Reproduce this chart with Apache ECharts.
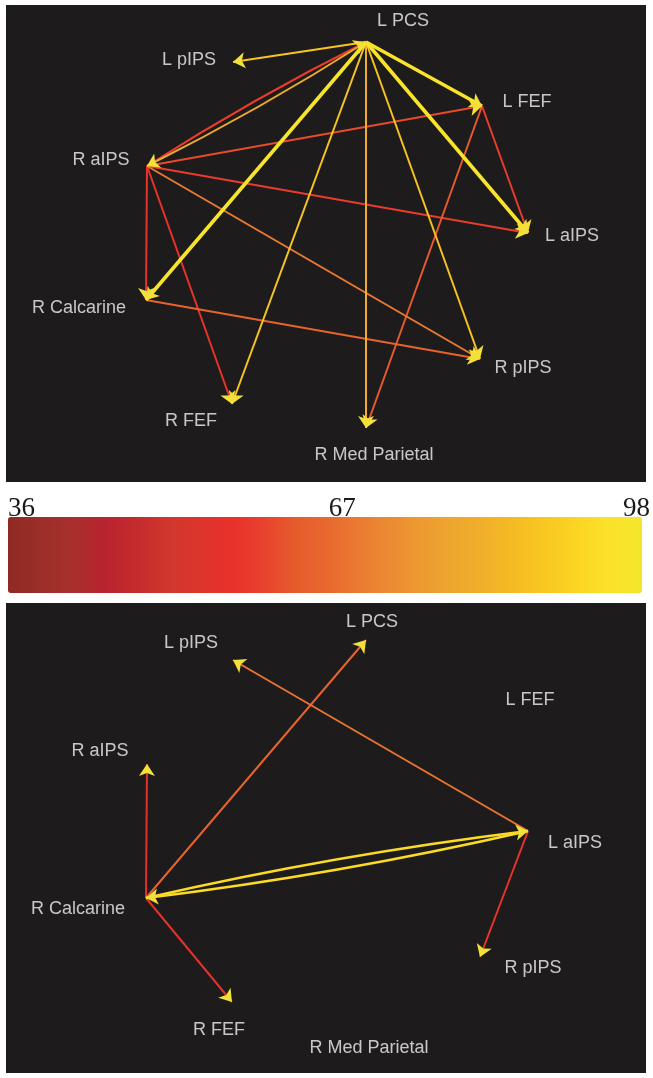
<!DOCTYPE html>
<html>
<head>
<meta charset="utf-8">
<script src="https://cdn.jsdelivr.net/npm/echarts@6/dist/echarts.min.js"></script>
<style>
  html, body { margin: 0; padding: 0; background: #ffffff; }
  #chart { width: 653px; height: 1078px; }
</style>
</head>
<body>
<div id="chart"></div>
<script>
// Brain regions (network nodes)
const regions = ['L PCS', 'L pIPS', 'L FEF', 'R aIPS', 'L aIPS', 'R Calcarine', 'R pIPS', 'R FEF', 'R Med Parietal'];

// Node layout in panel units (x to the right, y downward), shared by both panels
const layoutX = [360, 227, 476, 141, 522, 140, 474, 226, 360];
const layoutY = [37, 57, 101, 161, 228, 295, 354, 399, 423];

// Region name anchors, upper panel
const topLabelX = [397, 183, 521, 95, 566, 73, 517, 185, 368];
const topLabelY = [16, 55, 97, 155, 231, 303, 363, 416, 450];

// Region name anchors, lower panel
const bottomLabelX = [366, 185, 524, 94, 569, 72, 527, 213, 363];
const bottomLabelY = [19, 40, 97, 148, 240, 306, 365, 427, 445];

// Upper panel connections: source -> target, strength
const topFrom = ['L PCS', 'L PCS', 'L PCS', 'L PCS', 'L PCS', 'L PCS', 'L PCS', 'L PCS',
                 'R aIPS', 'R aIPS', 'R aIPS', 'R aIPS', 'R aIPS', 'R aIPS',
                 'L FEF', 'L FEF', 'R Calcarine'];
const topTo = ['L pIPS', 'L FEF', 'L aIPS', 'R Calcarine', 'R FEF', 'R Med Parietal', 'R pIPS', 'R aIPS',
               'L PCS', 'L FEF', 'L aIPS', 'R Calcarine', 'R FEF', 'R pIPS',
               'L aIPS', 'R Med Parietal', 'R pIPS'];
const topValue = [88, 96, 96, 97, 88, 82, 87, 80,
                  60, 62, 60, 58, 58, 70,
                  60, 64, 66];

// Lower panel connections
const bottomFrom = ['R Calcarine', 'R Calcarine', 'L aIPS', 'R Calcarine', 'L aIPS', 'L aIPS', 'R Calcarine'];
const bottomTo = ['R aIPS', 'L PCS', 'L pIPS', 'L aIPS', 'R Calcarine', 'R pIPS', 'R FEF'];
const bottomValue = [57, 66, 69, 93, 93, 58, 57];

// Colour scale
const scaleMin = 36;
const scaleMax = 98;
const scaleLabels = ['36', '67', '98'];
const scaleColors = ['#8e2a22', '#9c2e28', '#a8302c', '#b8242e', '#c32a2d', '#d0362c', '#dc352c',
                     '#e8302c', '#e8402e', '#e65a2c', '#e8682e', '#ea7a32', '#eb8a33', '#ed9a31',
                     '#eea62e', '#f0b02a', '#f4bc22', '#f8c820', '#fbd624', '#fbe22a', '#f4e62c'];

const PANEL_BG = '#1d1b1b';
const ARROW_COLOR = '#f3e03a';
const LABEL_COLOR = '#f2f2f2';
const TWO_WAY_CURVE = 0.026;

function buildEdges(from, to, value, forArrows) {
  const keys = new Set(from.map((f, i) => f + '>' + to[i]));
  return from.map((f, i) => {
    const a = regions.indexOf(f);
    const b = regions.indexOf(to[i]);
    const twoWay = keys.has(to[i] + '>' + f);
    const v = value[i];
    return {
      coords: [[layoutX[a], layoutY[a]], [layoutX[b], layoutY[b]]],
      value: v,
      lineStyle: {
        width: forArrows ? 0 : (v >= 95 ? 3.6 : (v >= 90 ? 2.4 : 2)),
        curveness: twoWay ? TWO_WAY_CURVE : 0
      }
    };
  }).sort((p, q) => p.value - q.value);
}

function buildLabels(lx, ly) {
  return regions.map((name, i) => ({ name: name, value: [lx[i], ly[i]] }));
}

function lineSeries(idx, from, to, value) {
  return {
    type: 'lines',
    coordinateSystem: 'cartesian2d',
    xAxisIndex: idx, yAxisIndex: idx,
    symbol: 'none',
    silent: true,
    lineStyle: { opacity: 1 },
    data: buildEdges(from, to, value, false),
    z: 2
  };
}

function arrowSeries(idx, from, to, value) {
  return {
    type: 'lines',
    coordinateSystem: 'cartesian2d',
    xAxisIndex: idx, yAxisIndex: idx,
    symbol: ['none', 'arrow'],
    symbolSize: [7, 12],
    silent: true,
    lineStyle: { color: ARROW_COLOR, opacity: 1 },
    data: buildEdges(from, to, value, true),
    z: 3
  };
}

function labelSeries(idx, lx, ly) {
  return {
    type: 'scatter',
    xAxisIndex: idx, yAxisIndex: idx,
    symbolSize: 0,
    silent: true,
    label: {
      show: true,
      position: 'inside',
      formatter: '{b}',
      color: LABEL_COLOR,
      fontFamily: 'Liberation Sans',
      fontSize: 18
    },
    data: buildLabels(lx, ly),
    z: 4
  };
}

const chart = echarts.init(document.getElementById('chart'), null, { renderer: 'canvas' });

chart.setOption({
  backgroundColor: '#ffffff',
  animation: false,
  grid: [
    { left: 6, top: 5, width: 640, height: 477, show: true, backgroundColor: PANEL_BG, borderWidth: 0 },
    { left: 6, top: 603, width: 640, height: 470, show: true, backgroundColor: PANEL_BG, borderWidth: 0 },
    { left: 8, top: 517, width: 634, height: 76, show: false }
  ],
  xAxis: [
    { gridIndex: 0, type: 'value', min: 0, max: 640, show: false },
    { gridIndex: 1, type: 'value', min: 0, max: 640, show: false },
    {
      gridIndex: 2, type: 'category', data: scaleLabels, boundaryGap: false, position: 'top',
      axisLine: { show: false }, axisTick: { show: false }, splitLine: { show: false },
      axisLabel: {
        color: '#1a1a1a', fontFamily: 'Liberation Serif', fontSize: 27, margin: -5,
        alignMinLabel: 'left', showMinLabel: true, showMaxLabel: true, interval: 0,
        // the middle value sits a little right of the bar centre
        formatter: (val, i) => (i === 1 ? '{mid|' + val + '}' : val),
        rich: {
          mid: { fontFamily: 'Liberation Serif', fontSize: 27, color: '#1a1a1a', padding: [0, 0, 0, 40] }
        }
      }
    }
  ],
  yAxis: [
    { gridIndex: 0, type: 'value', min: 0, max: 477, inverse: true, show: false },
    { gridIndex: 1, type: 'value', min: 0, max: 470, inverse: true, show: false },
    { gridIndex: 2, type: 'value', min: 0, max: 1, show: false }
  ],
  visualMap: {
    type: 'continuous',
    min: scaleMin, max: scaleMax,
    orient: 'horizontal',
    left: 8, top: 517,
    itemWidth: 76, itemHeight: 634,
    padding: 0,
    calculable: false,
    hoverLink: false,
    seriesIndex: [0, 3],
    inRange: { color: scaleColors }
  },
  series: [
    lineSeries(0, topFrom, topTo, topValue),
    arrowSeries(0, topFrom, topTo, topValue),
    labelSeries(0, topLabelX, topLabelY),
    lineSeries(1, bottomFrom, bottomTo, bottomValue),
    arrowSeries(1, bottomFrom, bottomTo, bottomValue),
    labelSeries(1, bottomLabelX, bottomLabelY)
  ]
});
</script>
</body>
</html>
